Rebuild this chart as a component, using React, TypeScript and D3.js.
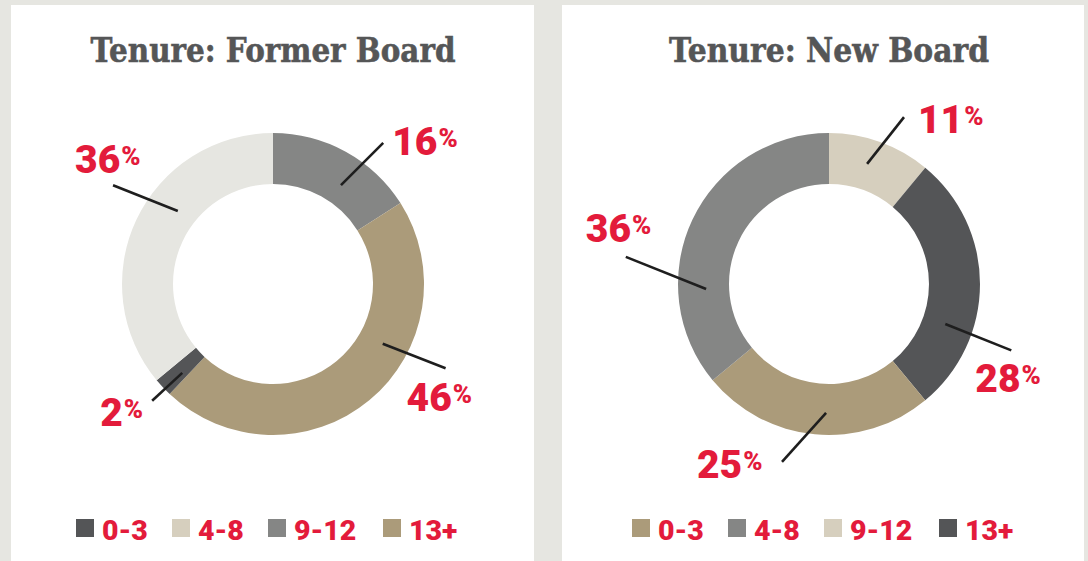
import React from "react";
import * as d3 from "d3";

// ---- data ----
const categories = ["9-12", "13+", "0-3", "4-8"]; // slice order, clockwise from 12 o'clock
const legendOrder = ["0-3", "4-8", "9-12", "13+"];
const formerValues = [16, 46, 2, 36];
const newValues = [11, 28, 25, 36];
const titles = ["Tenure: Former Board", "Tenure: New Board"];

// ---- styles ----
const C_DARK = "#545557";
const C_GRAY = "#858685";
const C_BEIGE = "#d6cfbe";
const C_TAN = "#ab9b7a";
const C_PALE = "#e6e6e1";
const RED = "#e31b3b";

const formerSlice: Record<string, string> = { "0-3": C_DARK, "4-8": C_PALE, "9-12": C_GRAY, "13+": C_TAN };
const formerLegend: Record<string, string> = { "0-3": C_DARK, "4-8": C_BEIGE, "9-12": C_GRAY, "13+": C_TAN };
const newSlice: Record<string, string> = { "0-3": C_TAN, "4-8": C_GRAY, "9-12": C_BEIGE, "13+": C_DARK };

// label placement (angles in degrees from 12 o'clock, radii, text offset from outer end)
type LL = { a1: number; r1: number; a2: number; r2: number; dx: number; dy: number };
const formerLabels: LL[] = [
  { a1: 34.5, r1: 120, a2: 38, r2: 179, dx: 9, dy: 12 },
  { a1: 118.6, r1: 125, a2: 116, r2: 192, dx: -39, dy: 43 },
  { a1: 225.6, r1: 127, a2: 226, r2: 168, dx: -52, dy: 25 },
  { a1: 307.5, r1: 120, a2: 301.7, r2: 188, dx: -38, dy: -12 },
];
const newLabels: LL[] = [
  { a1: 17.6, r1: 126, a2: 24.2, r2: 183, dx: 14, dy: 16 },
  { a1: 109, r1: 123, a2: 110, r2: 194, dx: -36, dy: 42 },
  { a1: 181.3, r1: 129, a2: 194.8, r2: 184, dx: -85, dy: 16 },
  { a1: 267.7, r1: 123, a2: 277.6, r2: 205, dx: -40, dy: -15 },
];
const legendOffsets = [-197, -101, -5, 110];

const W = 1088;
const H = 561;
const R_OUT = 151;
const R_IN = 100;
const CY = 284;

function polar(aDeg: number, r: number): [number, number] {
  const a = (aDeg * Math.PI) / 180;
  return [Math.sin(a) * r, -Math.cos(a) * r];
}

function Donut({
  cx,
  title,
  titleWidth,
  values,
  sliceColors,
  legendColors,
  labels,
}: {
  cx: number;
  title: string;
  titleWidth: number;
  values: number[];
  sliceColors: Record<string, string>;
  legendColors: Record<string, string>;
  labels: LL[];
}) {
  const data = categories.map((c, i) => ({ cat: c, value: values[i] }));
  const pie = d3
    .pie<{ cat: string; value: number }>()
    .sort(null)
    .value((d) => d.value);
  const arcs = pie(data);
  const arcGen = d3.arc<d3.PieArcDatum<{ cat: string; value: number }>>().innerRadius(R_IN).outerRadius(R_OUT);
  return (
    <g>
      <text
        x={cx}
        y={62}
        textAnchor="middle"
        fontFamily="'Roboto Slab','DejaVu Serif',serif"
        fontWeight={700}
        fontSize={33}
        fill="#555657"
        stroke="#555657"
        strokeWidth={0.6}
        textLength={titleWidth}
        lengthAdjust="spacingAndGlyphs"
      >
        {title}
      </text>
      <g transform={`translate(${cx},${CY})`}>
        {arcs.map((a) => (
          <path key={a.data.cat} d={arcGen(a) || ""} fill={sliceColors[a.data.cat]} />
        ))}
        {arcs.map((a, i) => {
          const l = labels[i];
          const [x1, y1] = polar(l.a1, l.r1);
          const [x2, y2] = polar(l.a2, l.r2);
          return (
            <g key={"l" + a.data.cat}>
              <line x1={x1} y1={y1} x2={x2} y2={y2} stroke="#1e1e1e" strokeWidth={2.6} />
              <text
                x={x2 + l.dx}
                y={y2 + l.dy}
                fontFamily="Roboto, 'Noto Sans', sans-serif"
                fontWeight={900}
                fontSize={39}
                fill={RED}
              >
                {a.data.value}
                <tspan fontSize={26} dx={1} dy={-8}>%</tspan>
              </text>
            </g>
          );
        })}
      </g>
      {legendOrder.map((c, i) => {
        const x = cx + legendOffsets[i];
        return (
          <g key={"lg" + c}>
            <rect x={x} y={519} width={18} height={18} fill={legendColors[c]} />
            <text
              x={x + 26}
              y={540}
              fontFamily="Roboto, 'Noto Sans', sans-serif"
              fontWeight={900}
              fontSize={28.5}
              fill={RED}
            >
              {c}
            </text>
          </g>
        );
      })}
    </g>
  );
}

export default function App() {
  return (
    <svg
      width={W}
      height={H}
      style={{ position: "absolute", left: 0, top: 0, display: "block" }}
    >
      <rect x={0} y={0} width={W} height={H} fill={C_PALE} />
      <rect x={11} y={5} width={523} height={H - 5} fill="#ffffff" />
      <rect x={562} y={5} width={522} height={H - 5} fill="#ffffff" />
      <Donut
        cx={273}
        title={titles[0]}
        titleWidth={365}
        values={formerValues}
        sliceColors={formerSlice}
        legendColors={formerLegend}
        labels={formerLabels}
      />
      <Donut
        cx={829}
        title={titles[1]}
        titleWidth={320}
        values={newValues}
        sliceColors={newSlice}
        legendColors={newSlice}
        labels={newLabels}
      />
    </svg>
  );
}
